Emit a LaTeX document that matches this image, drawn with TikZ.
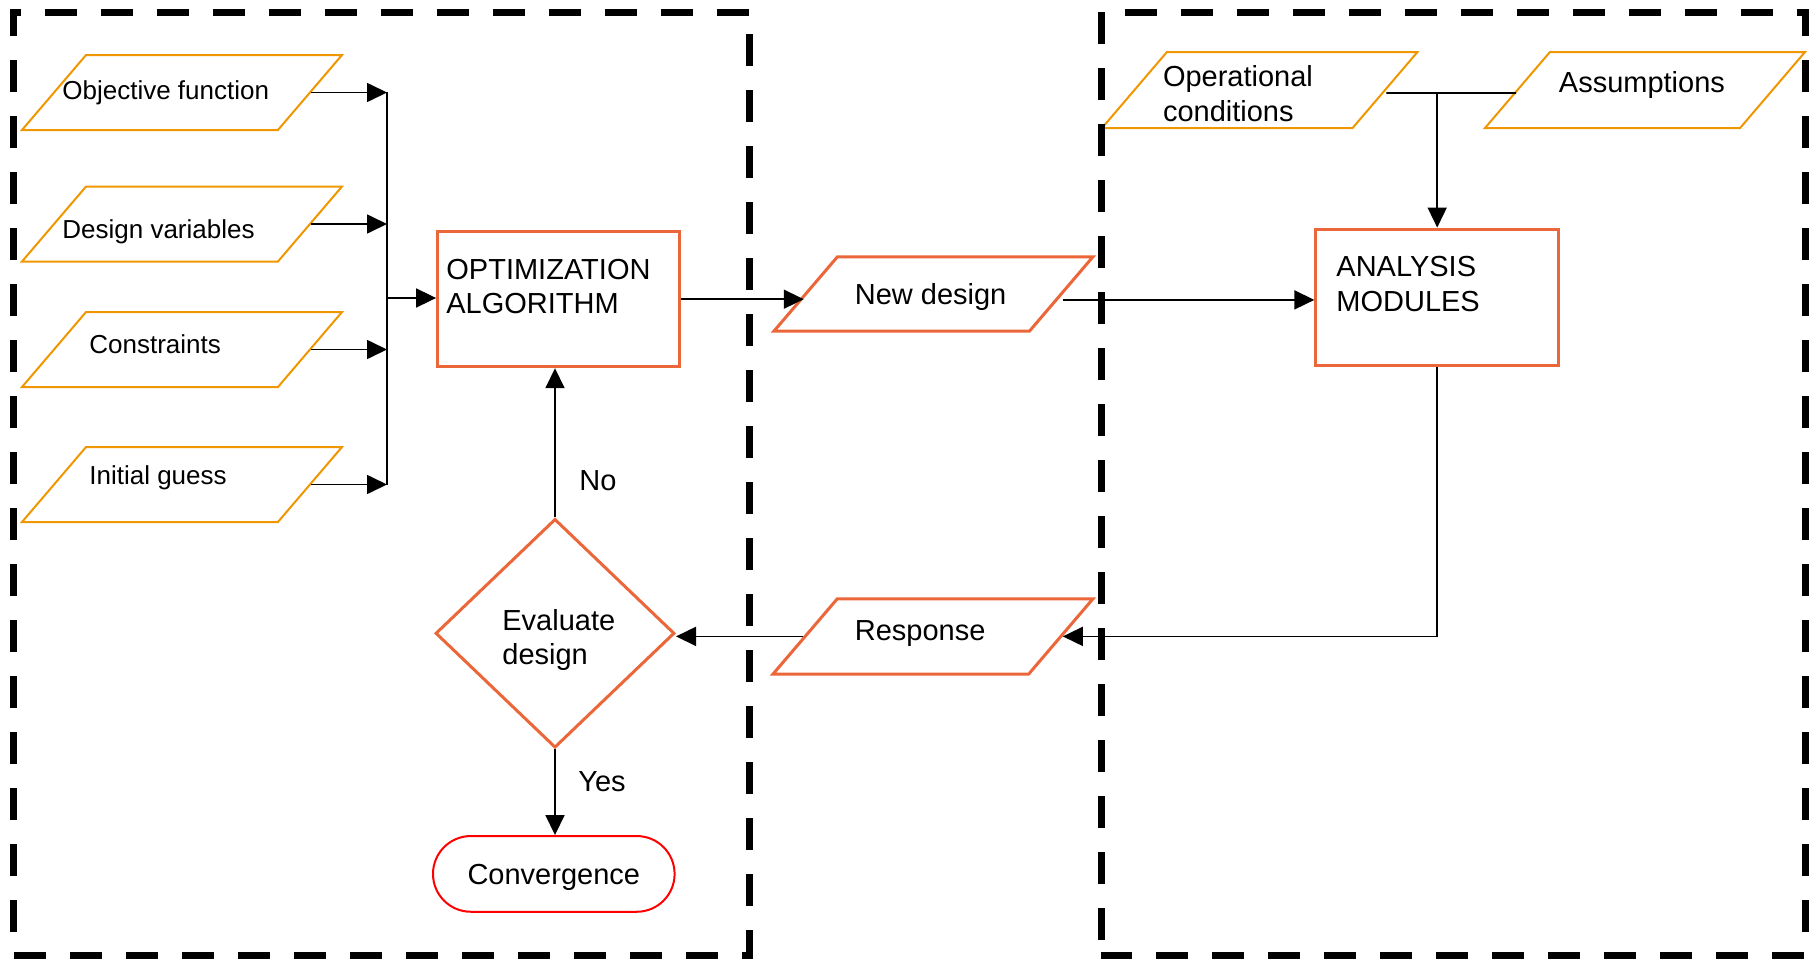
\documentclass[tikz,border=0pt]{standalone}
\usepackage{fontspec}
\setmainfont{Liberation Sans}
\usetikzlibrary{shapes.geometric,arrows.meta}

\definecolor{inorange}{RGB}{240,150,0}
\definecolor{procred}{RGB}{235,102,56}
\definecolor{endred}{RGB}{255,0,0}

\tikzset{
  slanted/.style={trapezium, trapezium left angle=49.5, trapezium right angle=130.5,
    trapezium stretches body=true, inner sep=0pt},
  inpar/.style={slanted, draw=inorange, line width=1pt},
  iopar/.style={slanted, draw=procred, line width=1.5pt},
  procbox/.style={rectangle, draw=procred, line width=1.5pt, inner sep=0pt},
  decide/.style={diamond, draw=procred, line width=1.5pt, inner sep=0pt},
  terminal/.style={rectangle, rounded corners=18.9pt, draw=endred, line width=1pt,
    inner sep=0pt, text height=14pt, text depth=3.1pt,
    font=\fontsize{14.5pt}{17pt}\selectfont},
  smalltxt/.style={anchor=west, inner sep=0pt, align=left, yshift=-1.5pt,
    font=\fontsize{13pt}{16pt}\selectfont},
  bigtxt/.style={anchor=west, inner sep=0pt, align=left, yshift=-1.75pt,
    font=\fontsize{14.5pt}{17.3pt}\selectfont},
  wire/.style={line width=0.85pt, black},
  conn/.style={wire, -{Triangle[length=10pt,width=9.5pt]}},
  frame/.style={line width=3.5pt, dash pattern=on 16pt off 12pt, black}
}
% empty box of a given height, sets the height of a slanted node
\newcommand{\tall}[1]{\rule{0pt}{#1}}

\begin{document}
\begin{tikzpicture}[x=0.5pt,y=-0.5pt]
\useasboundingbox (0,0) rectangle (1812,959);

% problem definition inputs
\node[inpar, minimum width=160pt] (obj)    at (182,92.5)  {\tall{37.5pt}};
\node[inpar, minimum width=160pt] (desvar) at (182,224)   {\tall{37.5pt}};
\node[inpar, minimum width=160pt] (constr) at (182,349.5) {\tall{37.5pt}};
\node[inpar, minimum width=160pt] (init)   at (182,484.5) {\tall{37.5pt}};
\node[smalltxt] (tobj)    at (62,90)  {Objective function};
\node[smalltxt] (tdesvar) at (62,229) {Design variables};
\node[smalltxt] (tconstr) at (89,341) {Constraints};
\node[smalltxt] (tinit)   at (89,475) {Initial guess};

% optimizer loop
\node[procbox, minimum width=120.7pt, minimum height=67.5pt] (opt) at (558.3,299.2) {};
\node[bigtxt] (topt) at (446,283) {OPTIMIZATION\\ALGORITHM};

\node[iopar, minimum width=159.5pt] (nd) at (933.5,293.9) {\tall{37.15pt}};
\node[bigtxt] (tnd) at (854.5,293) {New design};

\node[iopar, minimum width=160pt] (resp) at (933,636.4) {\tall{37.65pt}};
\node[bigtxt] (tresp) at (854.5,630) {Response};

\node[decide, minimum width=119.5pt, minimum height=114.4pt] (dia) at (555,633.3) {};
\node[bigtxt] (tdia) at (502,636.5) {Evaluate\\design};

\node[terminal, minimum width=120.8pt, minimum height=37.85pt] (conv) at (553.8,873.9) {Convergence};

\node[bigtxt] (tno)  at (579,477) {No};
\node[bigtxt] (tyes) at (578,778) {Yes};

% analysis side
\node[inpar, minimum width=157.75pt] (opc) at (1259.75,90) {\tall{38pt}};
\node[bigtxt] (topc) at (1162.6,90.4) {Operational\\conditions};
\node[inpar, minimum width=160pt] (asm) at (1645,90) {\tall{38pt}};
\node[bigtxt] (tasm) at (1558.5,81) {Assumptions};

\node[procbox, minimum width=121.35pt, minimum height=68.35pt] (an) at (1437.2,297.4) {};
\node[bigtxt] (tan) at (1336,280.4) {ANALYSIS\\MODULES};

% collecting bus for the inputs
\coordinate (bus) at (387,298);
\draw[conn] (obj.east)    -- (obj.east -| bus);
\draw[conn] (desvar.east) -- (desvar.east -| bus);
\draw[conn] (constr.east) -- (constr.east -| bus);
\draw[conn] (init.east)   -- (init.east -| bus);
\draw[wire] (obj.east -| bus) -- (init.east -| bus);
\draw[conn] (bus) -- (bus -| opt.west);

% main loop connectors
\draw[conn] (opt.east) -- (opt.east -| nd.west);
\draw[conn] ([yshift=-3pt]nd.east) -- ([yshift=-3pt]nd.east -| an.west);
\draw[wire] ([yshift=-1.5pt]opc.east) -- ([yshift=-1.5pt]asm.west);
\draw[conn] ([yshift=-1.5pt]opc.east -| an.north) -- (an.north);
\draw[conn] (an.south) |- (resp.east);
\draw[conn] (resp.west) -- (resp.west -| dia.east);
\draw[conn] (dia.north) -- (dia.north |- opt.south);
\draw[conn] (dia.south) -- (dia.south |- conv.north);

% dashed group frames
\draw[frame] (749,12) -- (13,12) -- (13,955) -- (749,955) -- cycle;
\draw[frame, dash phase=20.5pt] (1101,955) -- (1101,12) -- (1805,12) -- (1805,955) -- cycle;
\end{tikzpicture}
\end{document}
